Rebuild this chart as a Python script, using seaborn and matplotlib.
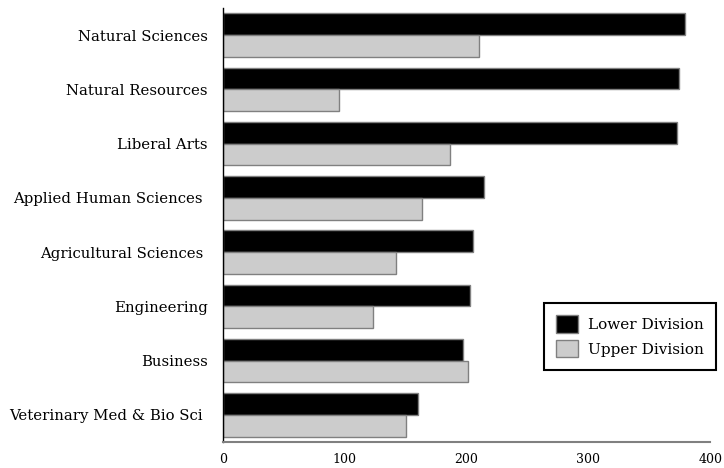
import numpy as np
import pandas as pd
import matplotlib
matplotlib.use("Agg")
import matplotlib.pyplot as plt
import seaborn as sns

# data
colleges = ["Natural Sciences", "Natural Resources", "Liberal Arts",
            "Applied Human Sciences ", "Agricultural Sciences ", "Engineering",
            "Business", "Veterinary Med & Bio Sci "]
lower_div = [379, 374, 373, 214, 205, 203, 197, 160]
upper_div = [210, 95, 186, 163, 142, 123, 201, 150]
series = ["Lower Division", "Upper Division"]
x_ticks = [0, 100, 200, 300, 400]

df = pd.DataFrame({
    "college": colleges * 2,
    "value": lower_div + upper_div,
    "division": [series[0]] * len(colleges) + [series[1]] * len(colleges),
})

sns.set_style("white")
plt.rcParams["font.family"] = ["DejaVu Serif"]
plt.rcParams["text.color"] = "black"
plt.rcParams["xtick.color"] = "black"
plt.rcParams["ytick.color"] = "black"

fig = plt.figure(figsize=(7.24, 4.68), dpi=100)
ax = fig.add_axes([0.308, 0.0556, 0.673, 0.9274])

sns.barplot(data=df, y="college", x="value", hue="division", orient="h",
            palette={series[0]: "black", series[1]: "#cccccc"},
            edgecolor="#808080", linewidth=1, width=0.8, ax=ax)

ax.set_xlim(0, 400)
ax.set_ylim(7.5, -0.5)
ax.set_xticks(x_ticks)
ax.set_xlabel("")
ax.set_ylabel("")
ax.tick_params(axis="y", length=0, pad=11, labelsize=10.7, labelcolor="black")
ax.tick_params(axis="x", length=0, pad=8, labelsize=9, labelcolor="black")

for side in ["top", "right"]:
    ax.spines[side].set_visible(False)
ax.spines["left"].set_color("black")
ax.spines["left"].set_linewidth(1)
ax.spines["bottom"].set_color("#808080")
ax.spines["bottom"].set_linewidth(1.5)

leg = ax.legend(loc="upper left", bbox_to_anchor=(0.659, 0.32), frameon=True,
                fancybox=False, framealpha=1, edgecolor="black", fontsize=11,
                handlelength=1.4, handleheight=1.4, borderpad=0.8,
                borderaxespad=0, labelspacing=0.45, handletextpad=0.7,
                title=None)
leg.get_frame().set_linewidth(1.5)
for t in leg.get_texts():
    t.set_color("black")

fig.savefig("out.png", dpi=100)
